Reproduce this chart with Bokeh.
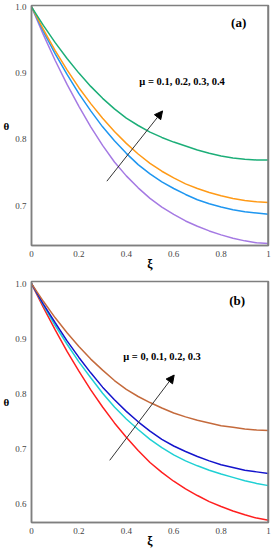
from bokeh.plotting import figure
from bokeh.layouts import column
from bokeh.models import Range1d, FixedTicker, Label, Arrow, NormalHead, Span
from bokeh.embed import file_html
from bokeh.resources import INLINE

# ---------------- data ----------------
xi = [0.0, 0.05, 0.10, 0.15, 0.20, 0.25, 0.30, 0.35, 0.40, 0.45, 0.50,
      0.55, 0.60, 0.65, 0.70, 0.75, 0.80, 0.85, 0.90, 0.95, 1.0]

# panel (a): mu = 0.1, 0.2, 0.3, 0.4
a_mu01 = [1.000, 0.958, 0.919, 0.883, 0.850, 0.819, 0.791, 0.766, 0.745, 0.727, 0.711,
          0.698, 0.687, 0.677, 0.669, 0.662, 0.656, 0.651, 0.647, 0.644, 0.643]
a_mu02 = [1.000, 0.963, 0.929, 0.898, 0.869, 0.843, 0.819, 0.798, 0.779, 0.762, 0.748,
          0.736, 0.726, 0.717, 0.709, 0.703, 0.698, 0.694, 0.691, 0.689, 0.687]
a_mu03 = [1.000, 0.966, 0.934, 0.905, 0.878, 0.854, 0.832, 0.812, 0.794, 0.778, 0.764,
          0.752, 0.742, 0.733, 0.726, 0.720, 0.715, 0.711, 0.708, 0.706, 0.705]
a_mu04 = [1.000, 0.972, 0.946, 0.922, 0.900, 0.880, 0.862, 0.846, 0.832, 0.821, 0.811,
          0.803, 0.796, 0.790, 0.784, 0.779, 0.775, 0.772, 0.770, 0.769, 0.769]

# panel (b): mu = 0, 0.1, 0.2, 0.3
b_mu00 = [1.000, 0.957, 0.916, 0.877, 0.841, 0.807, 0.776, 0.747, 0.721, 0.697, 0.675,
          0.657, 0.641, 0.627, 0.615, 0.604, 0.595, 0.587, 0.580, 0.574, 0.570]
b_mu01 = [1.000, 0.961, 0.924, 0.890, 0.858, 0.829, 0.801, 0.776, 0.754, 0.735, 0.717,
          0.702, 0.689, 0.678, 0.669, 0.661, 0.654, 0.648, 0.642, 0.637, 0.633]
b_mu02 = [1.000, 0.963, 0.929, 0.896, 0.866, 0.838, 0.812, 0.789, 0.768, 0.749, 0.732,
          0.717, 0.705, 0.695, 0.686, 0.678, 0.671, 0.666, 0.661, 0.658, 0.655]
b_mu03 = [1.000, 0.968, 0.938, 0.911, 0.886, 0.863, 0.843, 0.824, 0.808, 0.795, 0.784,
          0.774, 0.765, 0.758, 0.752, 0.747, 0.742, 0.739, 0.736, 0.734, 0.733]

x_ticks = [0, 0.2, 0.4, 0.6, 0.8, 1.0]
x_tick_labels = ["0", "0.2", "0.4", "0.6", "0.8", "1"]
a_y_ticks = [0.7, 0.8, 0.9, 1.0]
a_y_tick_labels = ["0.7", "0.8", "0.9", "1.0"]
b_y_ticks = [0.6, 0.7, 0.8, 0.9, 1.0]
b_y_tick_labels = ["0.6", "0.7", "0.8", "0.9", "1.0"]

a_colors = ["#a57ae3", "#1e96f0", "#ff9a17", "#1cae78"]
b_colors = ["#ff1f1f", "#1fd0d4", "#1414cc", "#c46a3c"]

SERIF = "Liberation Serif"
BORDER = "#7f7f7f"


def make_panel(y_range, y_ticks, y_labels, series, colors, tag, tag_pos,
               mu_text, mu_pos, arrow, top, bottom):
    p = figure(width=274, height=275, output_backend="svg", toolbar_location=None,
               x_range=Range1d(0, 1), y_range=Range1d(*y_range),
               min_border_left=30, min_border_right=6,
               min_border_top=top, min_border_bottom=bottom)
    p.background_fill_color = "white"
    p.border_fill_color = "white"
    p.outline_line_color = BORDER
    p.outline_line_width = 1.5
    p.xgrid.visible = False
    p.ygrid.visible = False
    for ax in (p.xaxis[0], p.yaxis[0]):
        ax.axis_line_color = BORDER
        ax.axis_line_width = 1.5
        ax.major_tick_line_color = None
        ax.minor_tick_line_color = None
        ax.major_tick_out = 0
        ax.major_tick_in = 0
        ax.minor_tick_out = 0
        ax.minor_tick_in = 0
        ax.major_label_text_font = SERIF
        ax.major_label_text_font_size = "9px"
        ax.major_label_text_color = "#444444"
        ax.major_label_standoff = 5
        ax.axis_label_text_font = SERIF
        ax.axis_label_text_font_style = "bold"
        ax.axis_label_text_color = "black"
    p.xaxis.ticker = FixedTicker(ticks=x_ticks)
    p.xaxis.major_label_overrides = {t: l for t, l in zip(x_ticks, x_tick_labels)}
    p.yaxis.ticker = FixedTicker(ticks=y_ticks)
    p.yaxis.major_label_overrides = {t: l for t, l in zip(y_ticks, y_labels)}

    p.xaxis.axis_label = "ξ"
    p.xaxis.axis_label_text_font_size = "12px"
    p.xaxis.axis_label_standoff = -3
    p.yaxis.axis_label = "θ"
    p.yaxis.axis_label_text_font_size = "11px"
    p.yaxis.axis_label_standoff = 3
    try:
        p.yaxis.axis_label_orientation = "horizontal"
    except Exception:
        pass

    p.add_layout(Span(location=1.0, dimension="height", line_color=BORDER, line_width=2.5))

    for ys, c in zip(series, colors):
        p.line(xi, ys, line_color=c, line_width=1.5)

    p.add_layout(Arrow(x_start=arrow[0], y_start=arrow[1], x_end=arrow[2], y_end=arrow[3],
                       line_color="#333333", line_width=1,
                       end=NormalHead(size=8, fill_color="black", line_color="black")))

    p.add_layout(Label(x=mu_pos[0], y=mu_pos[1], text=mu_text, text_font=SERIF,
                       text_font_style="bold", text_font_size="10.5px",
                       text_baseline="middle", text_align="left", text_color="black"))
    p.add_layout(Label(x=tag_pos[0], y=tag_pos[1], text=tag, text_font=SERIF,
                       text_font_style="bold", text_font_size="13px",
                       text_baseline="middle", text_align="left", text_color="black"))
    return p


pa = make_panel((0.64, 1.002), a_y_ticks, a_y_tick_labels,
                [a_mu01, a_mu02, a_mu03, a_mu04], a_colors,
                "(a)", (0.842, 0.977), "μ =  0.1, 0.2, 0.3, 0.4", (0.455, 0.888),
                (0.318, 0.737, 0.553, 0.843), 5, 30)

pb = make_panel((0.566, 1.004), b_y_ticks, b_y_tick_labels,
                [b_mu00, b_mu01, b_mu02, b_mu03], b_colors,
                "(b)", (0.834, 0.970), "μ =  0, 0.1, 0.2, 0.3", (0.387, 0.868),
                (0.330, 0.679, 0.602, 0.834), 6, 28)

layout = column(pa, pb, spacing=0)
html = file_html(layout, INLINE)
html = html.replace("<body>", '<body style="margin:0">', 1)
open("out.html", "w").write(html)
